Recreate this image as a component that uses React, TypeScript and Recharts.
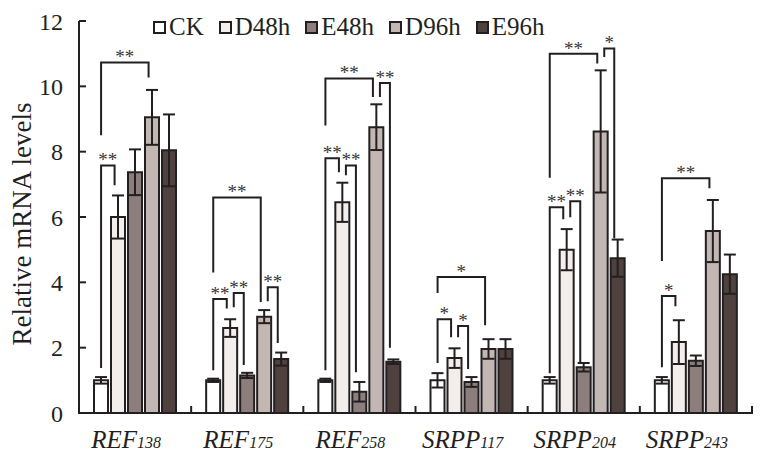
import React from 'react';
import { BarChart, Bar, XAxis, YAxis, ErrorBar } from 'recharts';

const INK = '#231f20';
const FONT = "'Liberation Serif', 'DejaVu Serif', serif";
const CHART_W = 760;
const CHART_H = 458;
const Y_AXIS_W = 79;
const BAR_SIZE = 14;
const BAR_GAP = 3;
const MARGIN = { top: 21, right: 8, bottom: 0, left: 0 };
const PLOT_W = CHART_W - Y_AXIS_W - MARGIN.left - MARGIN.right;
const Y_MAX = 12;

// gene names, split into the italic stem and the small number after it
const genes = ['REF', 'REF', 'REF', 'SRPP', 'SRPP', 'SRPP'];
const geneNums = ['138', '175', '258', '117', '204', '243'];

const seriesNames = ['CK', 'D48h', 'E48h', 'D96h', 'E96h'];
const COLORS = ['#ffffff', '#f3edeb', '#8b7e7c', '#c3b7b3', '#4f413d'];

// relative expression (mean) and standard error per treatment
const ck = [1.0, 1.0, 1.0, 1.0, 1.0, 1.0];
const ckErr = [0.1, 0.05, 0.05, 0.22, 0.1, 0.1];
const d48 = [6.0, 2.6, 6.45, 1.68, 5.0, 2.17];
const d48Err = [0.66, 0.27, 0.6, 0.3, 0.63, 0.67];
const e48 = [7.37, 1.15, 0.65, 0.95, 1.4, 1.6];
const e48Err = [0.7, 0.08, 0.3, 0.15, 0.13, 0.16];
const d96 = [9.05, 2.95, 8.75, 1.96, 8.62, 5.57];
const d96Err = [0.84, 0.2, 0.7, 0.3, 1.87, 0.95];
const e96 = [8.04, 1.65, 1.57, 1.96, 4.74, 4.25];
const e96Err = [1.1, 0.2, 0.07, 0.3, 0.57, 0.6];

const yTicks = [0, 2, 4, 6, 8, 10, 12];

// significance brackets: gene, from series, to series, bracket level, left leg end, right leg end, mark
const brackets: [number, number, number, number, number, number, string][] = [
  [0, 0, 1, 7.58, 1.38, 6.97, '**'],
  [0, 0, 3, 10.73, 8.5, 10.27, '**'],
  [1, 0, 1, 3.49, 1.31, 3.2, '**'],
  [1, 1, 2, 3.67, 3.24, 1.47, '**'],
  [1, 0, 3, 6.6, 4.3, 3.4, '**'],
  [1, 3, 4, 3.85, 3.42, 2.14, '**'],
  [2, 0, 1, 7.8, 1.31, 7.37, '**'],
  [2, 1, 2, 7.58, 7.28, 1.25, '**'],
  [2, 0, 3, 10.24, 8.8, 9.67, '**'],
  [2, 3, 4, 10.1, 9.67, 2.0, '**'],
  [3, 0, 1, 2.87, 1.53, 2.32, '*'],
  [3, 1, 2, 2.66, 2.32, 1.35, '*'],
  [3, 0, 3, 4.16, 3.67, 2.69, '*'],
  [4, 0, 1, 6.3, 1.22, 5.93, '**'],
  [4, 1, 2, 6.48, 5.99, 1.56, '**'],
  [4, 0, 3, 11.0, 7.2, 10.7, '**'],
  [4, 3, 4, 11.16, 10.9, 5.35, '*'],
  [5, 0, 1, 3.58, 1.4, 3.27, '*'],
  [5, 0, 3, 7.19, 4.65, 6.88, '**'],
];

const means = [ck, d48, e48, d96, e96];
const errs = [ckErr, d48Err, e48Err, d96Err, e96Err];

const data = geneNums.map((num, i) => {
  const row: any = { name: genes[i] + num, idx: i };
  means.forEach((m, k) => {
    row['s' + k] = m[i];
    row['e' + k] = errs[k][i];
  });
  return row;
});

// category tick: baseline piece with the small upward edge ticks, the brackets of that group, and the gene label
const GeneTick = (props: any) => {
  const { x, y, payload } = props;
  const i = data.findIndex((d) => d.name === payload.value);
  const half = PLOT_W / data.length / 2;
  const perUnit = (y - MARGIN.top) / Y_MAX;
  const toY = (v: number) => y - v * perUnit;
  const cx = (k: number) => x + (k - 2) * (BAR_SIZE + BAR_GAP);
  const last = i === data.length - 1;
  const base = `${x - half},${y - 7} ${x - half},${y} ${x + half},${y}` + (last ? ` ${x + half},${y - 7}` : '');
  return (
    <g>
      <polyline points={base} fill="none" stroke={INK} strokeWidth={2} />
      {brackets
        .filter((b) => b[0] === i)
        .map((b, j) => {
          const [, from, to, level, leftEnd, rightEnd, mark] = b;
          const x1 = cx(from) + (from === 0 ? 0 : 3.5);
          const x2 = cx(to) - 3.5;
          const yl = toY(level);
          return (
            <g key={j}>
              <polyline
                points={`${x1},${toY(leftEnd)} ${x1},${yl} ${x2},${yl} ${x2},${toY(rightEnd)}`}
                fill="none"
                stroke={INK}
                strokeWidth={2}
              />
              <text x={(x1 + x2) / 2} y={yl + 1} textAnchor="middle" fontFamily={FONT} fontSize={19} fill="#3a3536">
                {mark}
              </text>
            </g>
          );
        })}
      <text x={x - 9} y={y + 35} textAnchor="middle" fontFamily={FONT} fontStyle="italic" fill={INK}>
        <tspan fontSize={25}>{genes[i]}</tspan>
        <tspan fontSize={16}>{geneNums[i]}</tspan>
      </text>
    </g>
  );
};

const ChartLegend = () => (
  <div
    style={{
      position: 'absolute',
      top: 14,
      left: 153,
      display: 'flex',
      alignItems: 'center',
      fontFamily: FONT,
      fontSize: 25,
      color: INK,
      lineHeight: '26px',
      whiteSpace: 'nowrap',
    }}
  >
    {seriesNames.map((n, i) => (
      <div key={n} style={{ display: 'flex', alignItems: 'center', marginRight: 15 }}>
        <span style={{ display: 'inline-block', width: 9, height: 9, border: `2px solid ${INK}`, background: COLORS[i], marginRight: 3 }} />
        <span>{n}</span>
      </div>
    ))}
  </div>
);

const YTitle = () => (
  <div
    style={{
      position: 'absolute',
      left: -128,
      top: 209,
      width: 300,
      height: 30,
      lineHeight: '30px',
      textAlign: 'center',
      fontFamily: FONT,
      fontSize: 27,
      color: INK,
      transform: 'rotate(-90deg)',
      whiteSpace: 'nowrap',
    }}
  >
    Relative mRNA levels
  </div>
);

export default function App() {
  return (
    <div style={{ position: 'relative', width: CHART_W, height: CHART_H, overflow: 'hidden' }}>
      <style>{'body{margin:0}'}</style>
      <BarChart width={CHART_W} height={CHART_H} data={data} margin={MARGIN} barGap={BAR_GAP} barSize={BAR_SIZE}>
        <XAxis
          dataKey="name"
          height={45}
          axisLine={{ stroke: INK, strokeWidth: 2 }}
          tickLine={false}
          tickSize={0}
          tickMargin={0}
          tick={<GeneTick />}
          interval={0}
        />
        <YAxis
          domain={[0, Y_MAX]}
          ticks={yTicks}
          width={Y_AXIS_W}
          tickSize={-7}
          tickMargin={23}
          axisLine={{ stroke: INK, strokeWidth: 2 }}
          tickLine={{ stroke: INK, strokeWidth: 2 }}
          tick={{ fontSize: 24, fill: INK, fontFamily: FONT }}
        />
        {seriesNames.map((n, k) => (
          <Bar key={n} dataKey={'s' + k} name={n} fill={COLORS[k]} stroke={INK} strokeWidth={2} isAnimationActive={false}>
            <ErrorBar dataKey={'e' + k} width={6} stroke={INK} strokeWidth={2} direction="y" isAnimationActive={false} />
          </Bar>
        ))}
      </BarChart>
      <YTitle />
      <ChartLegend />
    </div>
  );
}
